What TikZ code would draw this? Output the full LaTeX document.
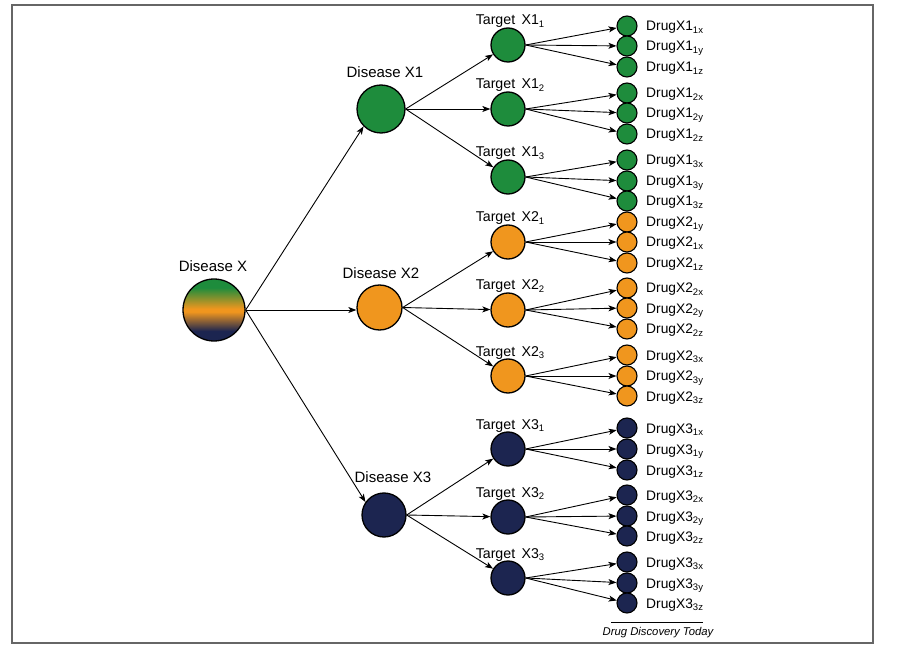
\documentclass[tikz,border=0pt]{standalone}
\usepackage{fontspec}
\setmainfont{Liberation Sans}
\usetikzlibrary{arrows.meta}
\definecolor{dgreen}{RGB}{30,140,60}
\definecolor{dorange}{RGB}{240,150,30}
\definecolor{dnavy}{RGB}{28,37,80}
\pgfdeclareverticalshading{dxshade}{100bp}{color(0bp)=(dnavy); color(33bp)=(dnavy); color(48.5bp)=(dorange); color(51bp)=(dorange); color(68bp)=(dgreen); color(100bp)=(dgreen)}
\newcommand{\lowsub}[1]{{\fontsize{9.5}{10}\selectfont\raisebox{-2.5pt}{#1}}}
\tikzset{
 bub/.style={circle, draw=black, line width=1.3pt, inner sep=0pt},
 tgt/.style={bub, minimum size=34pt},
 drg/.style={bub, minimum size=20pt, line width=1.1pt},
 arr/.style={-{Stealth[length=8pt,width=6pt,inset=2pt]}, line width=0.9pt},
 lbl/.style={font=\fontsize{15}{17}\selectfont, anchor=base, inner sep=0pt},
 tlbl/.style={font=\fontsize{14.2}{16}\selectfont, anchor=base, inner sep=0pt},
 dlbl/.style={font=\fontsize{13.8}{15}\selectfont, anchor=base west, inner sep=0pt},
}
\begin{document}
\begin{tikzpicture}[x=1pt,y=-1pt]
\useasboundingbox (0,0) rectangle (903,647);
\draw[draw=black!60, line width=2pt] (11.5,5) rectangle (873,643);
% diseases
\node[bub, minimum size=62pt, shading=dxshade] (DX) at (214,310) {};
\node[bub, fill=dgreen, minimum size=48pt] (D1) at (381,109) {};
\node[bub, fill=dorange, minimum size=45pt] (D2) at (379.5,307.5) {};
\node[bub, fill=dnavy, minimum size=44pt] (D3) at (384,515) {};
\node[lbl] (LX) at (213,272) {Disease X};
\node[lbl] (L1) at (385,78) {Disease X1};
\node[lbl] (L2) at (381,279) {Disease X2};
\node[lbl] (L3) at (393,482) {Disease X3};
\draw[arr] (DX.east) -- (D1.225);
\draw[arr] (DX.east) -- (DX.east -| D2.west);
\draw[arr] (DX.east) -- (D3.145);
% targets
\foreach \i/\j/\y/\c in {1/1/45/dgreen,1/2/109/dgreen,1/3/177/dgreen,
  2/1/242/dorange,2/2/310/dorange,2/3/376/dorange,
  3/1/449/dnavy,3/2/517/dnavy,3/3/578/dnavy}{
 \node[tgt, fill=\c] (T\i\j) at (508,\y) {};
 \node[tlbl] (TL\i\j) at (510,{\y-20}) {Target\hspace{0.45em}X\i\lowsub{\j}};
 \draw[arr] (D\i.east) -- (T\i\j);
}
% drugs
\foreach \i/\j/\k/\y/\c in {1/1/x/26/dgreen,1/1/y/46/dgreen,1/1/z/67/dgreen,
  1/2/x/93/dgreen,1/2/y/113/dgreen,1/2/z/134/dgreen,
  1/3/x/160/dgreen,1/3/y/181/dgreen,1/3/z/201/dgreen,
  2/1/y/222/dorange,2/1/x/242/dorange,2/1/z/263/dorange,
  2/2/x/288/dorange,2/2/y/308/dorange,2/2/z/329/dorange,
  2/3/x/355/dorange,2/3/y/376/dorange,2/3/z/396/dorange,
  3/1/x/428/dnavy,3/1/y/449/dnavy,3/1/z/470/dnavy,
  3/2/x/495/dnavy,3/2/y/516/dnavy,3/2/z/536/dnavy,
  3/3/x/562/dnavy,3/3/y/583/dnavy,3/3/z/603/dnavy}{
 \node[drg, fill=\c] (G\i\j\k) at (627,\y) {};
 \node[dlbl] (GL\i\j\k) at (646,{\y+5}) {DrugX\i\lowsub{\j\k}};
 \draw[arr] (T\i\j.east) -- (G\i\j\k);
}
% caption
\coordinate (c1) at (611,622);
\coordinate (c2) at (703,622);
\draw[line width=0.8pt] (c1) -- (c2);
\node[font=\itshape\fontsize{11.3}{13}\selectfont, anchor=base, inner sep=0pt] (cap) at (658,635) {Drug Discovery Today};
\end{tikzpicture}
\end{document}
